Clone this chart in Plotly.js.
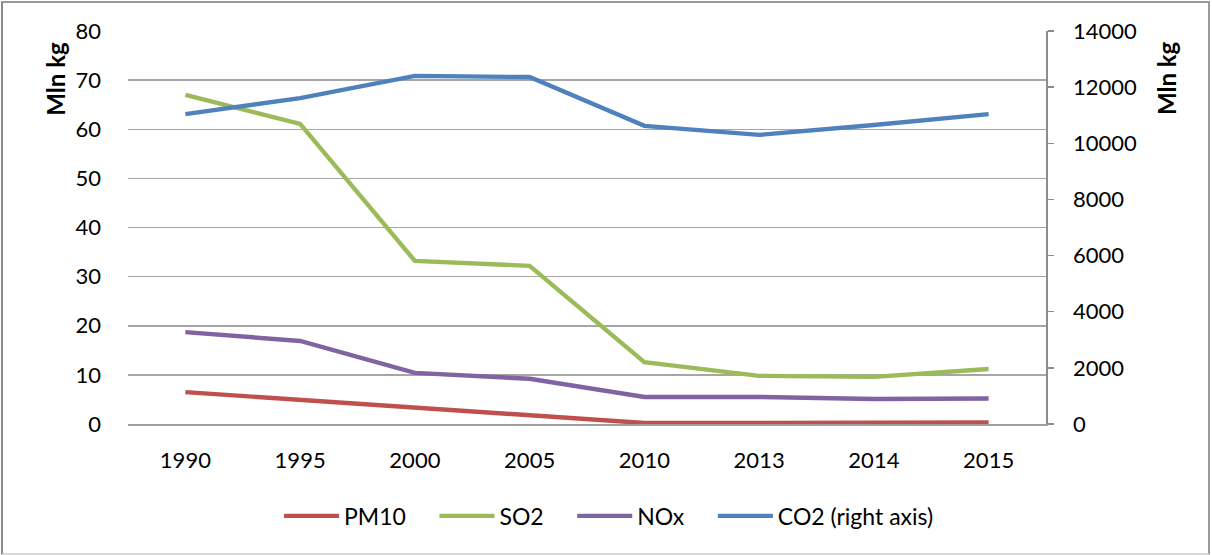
<!DOCTYPE html>
<html>
<head>
<meta charset="utf-8">
<script src="https://cdn.plot.ly/plotly-3.0.1.min.js"></script>
<style>
  html, body { margin: 0; padding: 0; background: #fff; }
  #wrap { position: relative; width: 1212px; height: 555px; }
  #chart { position: absolute; left: 0; top: 0; width: 1212px; height: 555px; }
  #frame { position: absolute; left: 1px; top: 1px; width: 1205px; height: 550px;
           border-left: 2px solid #8a8a8a; border-top: 2px solid #9a9a9a;
           border-right: 2px solid #9a9a9a; border-bottom: 2px solid #d9d9d9;
           pointer-events: none; }
</style>
</head>
<body>
<div id="wrap">
  <div id="chart"></div>
  <div id="frame"></div>
</div>
<script>
const years = ["1990", "1995", "2000", "2005", "2010", "2013", "2014", "2015"];
const pm10 = [6.5, 4.9, 3.3, 1.6, 0.2, 0.2, 0.2, 0.3];
const so2  = [67.0, 61.1, 33.2, 32.2, 12.6, 9.8, 9.6, 11.2];
const nox  = [18.7, 16.9, 10.4, 9.2, 5.5, 5.5, 5.1, 5.2];
const co2  = [11040, 11610, 12400, 12360, 10620, 10300, 10650, 11040];
const seriesNames = ["PM10", "SO2", "NOx", "CO2 (right axis)"];

const font = "Lato, 'Open Sans', sans-serif";
const pad = "\u00a0\u00a0\u00a0\u00a0";
const mk = (name, y, color, axis) => ({
  x: years, y: y, name: name, type: "scatter", mode: "lines",
  yaxis: axis, line: { color: color, width: 4.4 }
});

const data = [
  mk(seriesNames[0] + pad, pm10, "#C0504D", "y"),
  mk(seriesNames[1] + pad, so2, "#9BBB59", "y"),
  mk(seriesNames[2] + pad, nox, "#8064A2", "y"),
  mk(seriesNames[3], co2, "#4F81BD", "y2")
];

const layout = {
  width: 1212, height: 555,
  margin: { l: 128, r: 166, t: 31, b: 131 },
  paper_bgcolor: "#fff", plot_bgcolor: "#fff",
  font: { family: font, size: 22, color: "#000" },
  showlegend: true,
  legend: {
    orientation: "h", x: 0.524, xanchor: "center", y: -0.234, yanchor: "middle",
    font: { family: font, size: 23, color: "#000" }, traceorder: "normal",
    itemwidth: 55
  },
  xaxis: {
    type: "category", range: [-0.5, 7.5], showgrid: false, showline: true,
    linecolor: "#a0a0a0", linewidth: 1.5,
    ticks: "", tickfont: { family: font, size: 22 }, ticklabelstandoff: 16,
    zeroline: false
  },
  yaxis: {
    range: [0, 80], dtick: 10, showgrid: true, gridcolor: "#a6a6a6", gridwidth: 1.5,
    zeroline: false, showline: false, ticks: "", tickfont: { family: font, size: 22 },
    ticklabelstandoff: 26
  },
  yaxis2: {
    overlaying: "y", side: "right", range: [0, 14000], dtick: 2000, tickformat: "d",
    showgrid: false, zeroline: false, showline: true, linecolor: "#8c8c8c", linewidth: 1.5,
    ticks: "outside", ticklen: 6, tickcolor: "#8c8c8c", tickwidth: 1.5,
    tickfont: { family: font, size: 22 }, ticklabelstandoff: 15
  },
  annotations: [
    { text: "<b>Mln kg</b>", xref: "paper", yref: "paper", x: -0.079, y: 0.88,
      xanchor: "center", yanchor: "middle", textangle: -90, showarrow: false,
      font: { family: font, size: 24, color: "#000" } },
    { text: "<b>Mln kg</b>", xref: "paper", yref: "paper", x: 1.1306, y: 0.88,
      xanchor: "center", yanchor: "middle", textangle: -90, showarrow: false,
      font: { family: font, size: 24, color: "#000" } }
  ]
};

Plotly.newPlot("chart", data, layout, { displayModeBar: false, staticPlot: true });
</script>
</body>
</html>
